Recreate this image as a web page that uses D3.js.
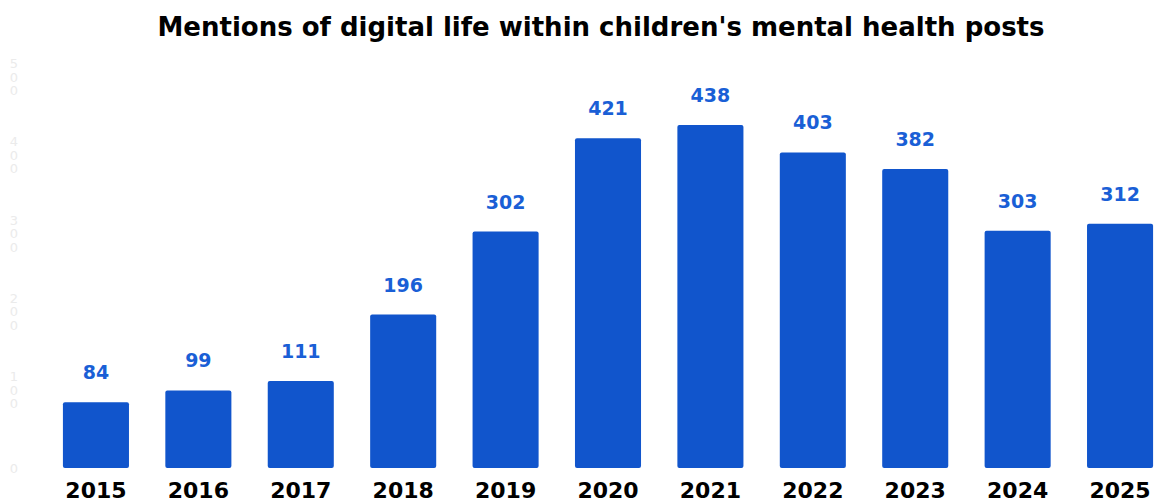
<!DOCTYPE html>
<html>
<head>
<meta charset="utf-8">
<script src="https://cdn.jsdelivr.net/npm/d3@7"></script>
<style>
  html, body { margin: 0; padding: 0; background: #fff; }
  svg { display: block; }
</style>
</head>
<body>
<svg id="chart" width="1155" height="500"></svg>
<script>
// Yearly counts of posts mentioning digital life
const years = ["2015","2016","2017","2018","2019","2020","2021","2022","2023","2024","2025"];
const mentions = [84, 99, 111, 196, 302, 421, 438, 403, 382, 303, 312];
const yTicks = [0, 100, 200, 300, 400, 500];
const title = "Mentions of digital life within children's mental health posts";

const svg = d3.select("#chart");
const font = "'DejaVu Sans', Verdana, sans-serif";

const x = d3.scaleBand()
  .domain(years)
  .range([45, 1171])
  .paddingInner(0.355)
  .paddingOuter(0.175);

const y = d3.scaleLinear()
  .domain([0, 500])
  .range([468, 76.5]);

// Title
svg.append("text")
  .attr("x", 601)
  .attr("y", 36)
  .attr("text-anchor", "middle")
  .attr("font-family", font)
  .attr("font-weight", "bold")
  .attr("font-size", 26)
  .attr("fill", "#000")
  .text(title);

// Y axis: faint labels with digits stacked vertically
const yAxis = svg.append("g").attr("class", "y-axis");
yTicks.forEach(t => {
  const chars = String(t).split("");
  const lh = 13.5;
  const cy = y(t);
  const txt = yAxis.append("text")
    .attr("x", 14)
    .attr("font-family", font)
    .attr("font-size", 13)
    .attr("fill", "#ebebeb")
    .attr("text-anchor", "middle");
  chars.forEach((c, i) => {
    txt.append("tspan")
      .attr("x", 14)
      .attr("y", cy + 5 + (i - (chars.length - 1) / 2) * lh)
      .text(c);
  });
});

// Bars
svg.append("g").selectAll("rect")
  .data(years)
  .join("rect")
  .attr("x", d => x(d))
  .attr("y", (d, i) => y(mentions[i]))
  .attr("width", x.bandwidth())
  .attr("height", (d, i) => y(0) - y(mentions[i]))
  .attr("rx", 2)
  .attr("fill", "#1155cc");

// Value labels
svg.append("g").selectAll("text")
  .data(years)
  .join("text")
  .attr("x", d => x(d) + x.bandwidth() / 2)
  .attr("y", (d, i) => y(mentions[i]) - 23)
  .attr("text-anchor", "middle")
  .attr("font-family", font)
  .attr("font-weight", "bold")
  .attr("font-size", 19)
  .attr("fill", "#1a5fd6")
  .text((d, i) => mentions[i]);

// X axis labels
const xAxis = svg.append("g")
  .attr("transform", "translate(0,468)")
  .call(d3.axisBottom(x).tickSize(0).tickPadding(0));
xAxis.select(".domain").remove();
xAxis.selectAll("text")
  .attr("dy", null)
  .attr("y", 30)
  .attr("font-family", font)
  .attr("font-weight", "bold")
  .attr("font-size", 22)
  .attr("fill", "#000");
</script>
</body>
</html>
